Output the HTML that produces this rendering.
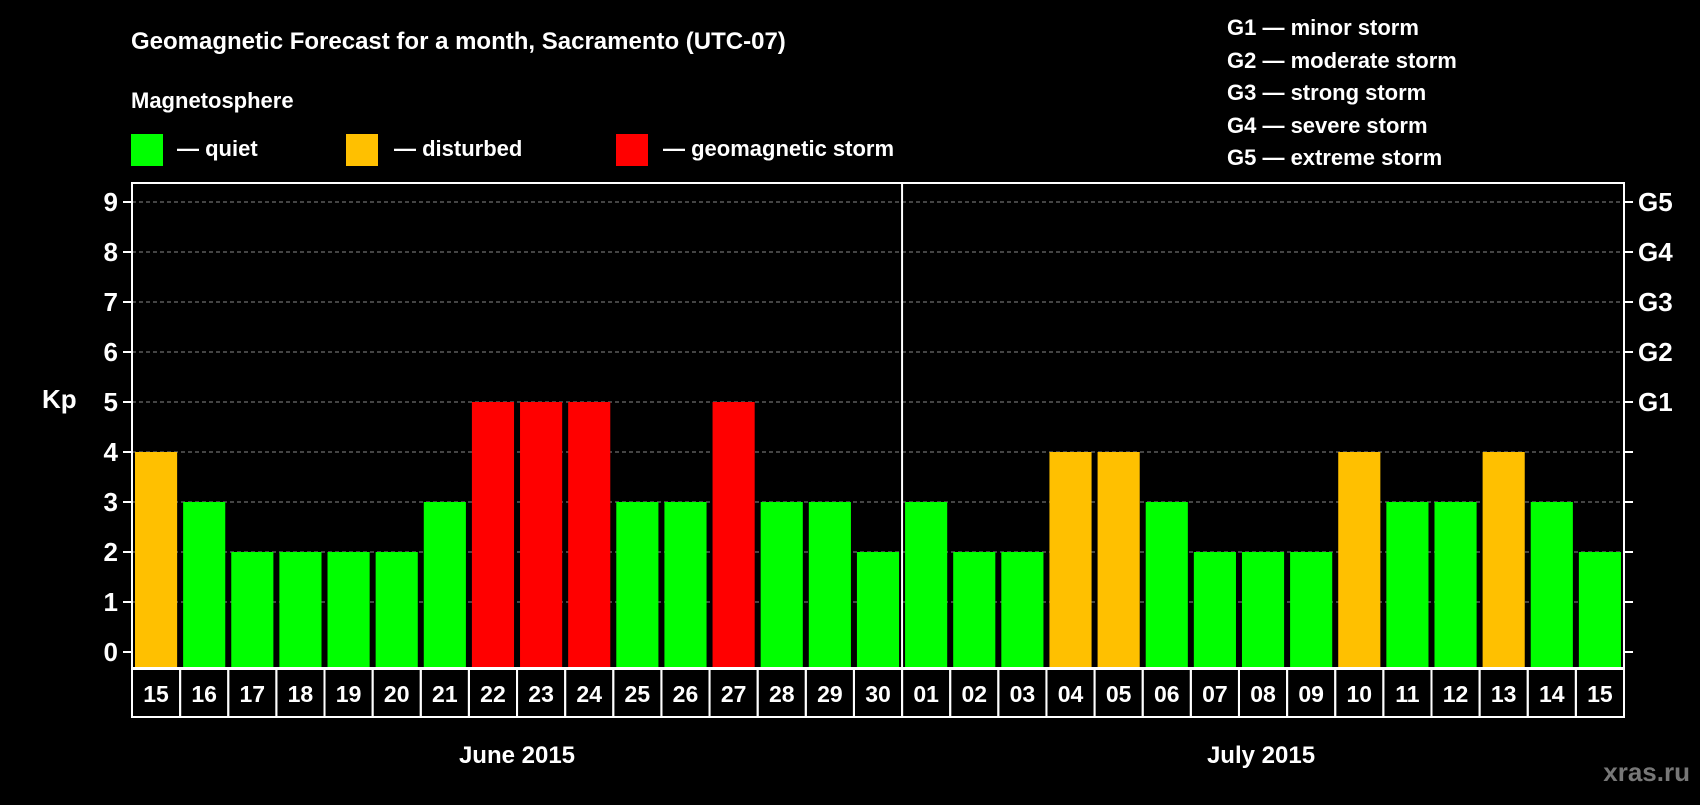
<!DOCTYPE html>
<html><head><meta charset="utf-8"><style>
body{margin:0;background:#000;width:1700px;height:800px;overflow:hidden;font-family:"Liberation Sans",sans-serif;}
svg text{font-family:"Liberation Sans",sans-serif;font-weight:bold;fill:#fff;}
</style></head><body>
<svg id="c" width="1700" height="800">
<text x="131" y="49" font-size="24">Geomagnetic Forecast for a month, Sacramento (UTC-07)</text>
<text x="131" y="108" font-size="22">Magnetosphere</text>
<rect x="131" y="134" width="32" height="32" fill="#00ff00"/>
<text x="177" y="156" font-size="22">— quiet</text>
<rect x="346" y="134" width="32" height="32" fill="#ffc000"/>
<text x="394" y="156" font-size="22">— disturbed</text>
<rect x="616" y="134" width="32" height="32" fill="#ff0000"/>
<text x="663" y="156" font-size="22">— geomagnetic storm</text>
<g font-size="22">
<text x="1227" y="35">G1 — minor storm</text>
<text x="1227" y="68">G2 — moderate storm</text>
<text x="1227" y="100">G3 — strong storm</text>
<text x="1227" y="133">G4 — severe storm</text>
<text x="1227" y="165">G5 — extreme storm</text>
</g>
<text x="42" y="408" font-size="26">Kp</text>
<text x="517" y="763" font-size="24" text-anchor="middle">June 2015</text>
<text x="1261" y="763" font-size="24" text-anchor="middle">July 2015</text>
<text x="1690" y="781" font-size="26" text-anchor="end" style="fill:#777">xras.ru</text>
<g id="plot"></g>
</svg>
<script>
const days=["15","16","17","18","19","20","21","22","23","24","25","26","27","28","29","30","01","02","03","04","05","06","07","08","09","10","11","12","13","14","15"];
const kp=[4,3,2,2,2,2,3,5,5,5,3,3,5,3,3,2,3,2,2,4,4,3,2,2,2,4,3,3,4,3,2];
const yTicks=[0,1,2,3,4,5,6,7,8,9];
const gLabels=["","","","","","G1","G2","G3","G4","G5"];
const L=132,R=1624,T=183,B=668,cellH=48;
const cw=(R-L)/days.length;
const y=v=>652-v*50;
const x=i=>L+i*cw;
const NS="http://www.w3.org/2000/svg";
const g=document.getElementById('plot');
function mk(t,a){const e=document.createElementNS(NS,t);for(const k in a)e.setAttribute(k,a[k]);g.appendChild(e);return e;}
yTicks.forEach((v,i)=>{
 if(v>0){const l=mk('line',{x1:L,x2:R,y1:y(v),y2:y(v),stroke:'#888','stroke-dasharray':'4,3','stroke-width':1});
 
 }
 const t1=mk('line',{x1:L-9,x2:L,y1:y(v),y2:y(v),stroke:'#fff','stroke-width':2});
 
 
 const t2=mk('line',{x1:R,x2:R+9,y1:y(v),y2:y(v),stroke:'#fff','stroke-width':2});
 
 
 const tx=mk('text',{x:L-14,y:y(v)+9,'text-anchor':'end','font-size':26});tx.textContent=v;
 
 
 if(gLabels[i]){const gt=mk('text',{x:R+14,y:y(v)+9,'font-size':26});gt.textContent=gLabels[i];
 
 }
});
kp.forEach((v,i)=>{
 const col=v>=5?'#ff0000':v>=4?'#ffc000':'#00ff00';
 const b=mk('rect',{x:x(i)+3,y:y(v),width:cw-6,height:B-y(v),fill:col});
 
 
 const c=mk('rect',{x:x(i),y:B+1,width:cw,height:cellH,fill:'none',stroke:'#fff','stroke-width':2});
 
 
 const t=mk('text',{x:x(i)+cw/2,y:B+34,'text-anchor':'middle','font-size':23});t.textContent=days[i];
 
 
});
const f=mk('rect',{x:L,y:T,width:R-L,height:B-T,fill:'none',stroke:'#fff','stroke-width':2});


const m=mk('line',{x1:x(16),x2:x(16),y1:T,y2:B+cellH,stroke:'#fff','stroke-width':2});


</script>
</body></html>
